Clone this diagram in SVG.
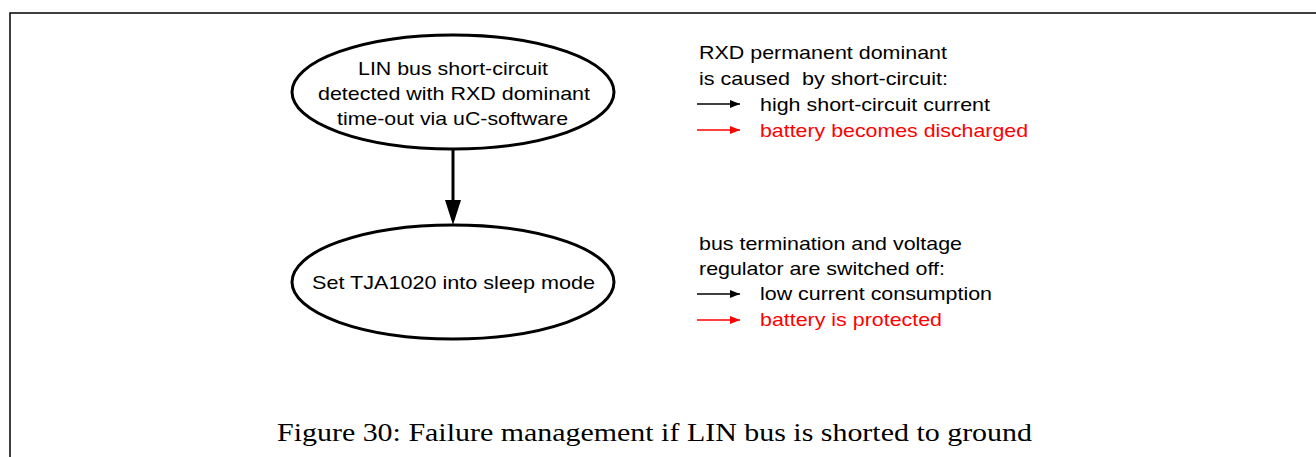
<svg xmlns="http://www.w3.org/2000/svg" width="1316" height="457" viewBox="0 0 1316 457">
<style>
.node{fill:#fff;stroke:#000;stroke-width:3}
.t{font-family:"Liberation Sans",Arial,sans-serif;font-size:18.5px;fill:#000}
.r{fill:#f00}
.cap{font-family:"Liberation Serif","Times New Roman",serif;font-size:25px;fill:#000}
</style>
<defs>
<marker id="sb" viewBox="0 0 10 8" refX="10" refY="4" markerWidth="10" markerHeight="8" orient="auto" markerUnits="userSpaceOnUse"><path d="M0,0 L10,4 L0,8 Z" fill="#000"/></marker>
<marker id="sr" viewBox="0 0 10 8" refX="10" refY="4" markerWidth="10" markerHeight="8" orient="auto" markerUnits="userSpaceOnUse"><path d="M0,0 L10,4 L0,8 Z" fill="#f00"/></marker>
</defs>
<rect width="1316" height="457" fill="#fff"/>
<path d="M10,457 V13 H1316" fill="none" stroke="#000" stroke-width="1.5"/>
<g id="connectors">
<path d="M453,149 V200" stroke="#000" stroke-width="3" fill="none"/>
<path d="M445,200 L461,200 L453,225 Z" fill="#000"/>
<path d="M697,104 H740" stroke="#000" stroke-width="1.5" marker-end="url(#sb)"/>
<path d="M697,130 H740" stroke="#f00" stroke-width="1.5" marker-end="url(#sr)"/>
<path d="M697,294 H740" stroke="#000" stroke-width="1.5" marker-end="url(#sb)"/>
<path d="M697,320 H740" stroke="#f00" stroke-width="1.5" marker-end="url(#sr)"/>
</g>
<g id="node1">
<ellipse class="node" cx="453" cy="92" rx="161" ry="57"/>
<text class="t" x="358" y="75" textLength="190" lengthAdjust="spacingAndGlyphs">LIN bus short-circuit</text>
<text class="t" x="318" y="100" textLength="272" lengthAdjust="spacingAndGlyphs">detected with RXD dominant</text>
<text class="t" x="337" y="125" textLength="231" lengthAdjust="spacingAndGlyphs">time-out via uC-software</text>
</g>
<g id="node2">
<ellipse class="node" cx="453" cy="282" rx="161" ry="57"/>
<text class="t" x="312" y="289" textLength="283" lengthAdjust="spacingAndGlyphs">Set TJA1020 into sleep mode</text>
</g>
<g id="note1">
<text class="t" x="699" y="59" textLength="248" lengthAdjust="spacingAndGlyphs">RXD permanent dominant</text>
<text class="t" x="699" y="85" textLength="249" lengthAdjust="spacingAndGlyphs" xml:space="preserve">is caused  by short-circuit:</text>
<text class="t" x="760" y="111" textLength="230" lengthAdjust="spacingAndGlyphs">high short-circuit current</text>
<text class="t r" x="760" y="137" textLength="268" lengthAdjust="spacingAndGlyphs">battery becomes discharged</text>
</g>
<g id="note2">
<text class="t" x="699" y="250" textLength="263" lengthAdjust="spacingAndGlyphs">bus termination and voltage</text>
<text class="t" x="699" y="275" textLength="246" lengthAdjust="spacingAndGlyphs">regulator are switched off:</text>
<text class="t" x="760" y="300" textLength="232" lengthAdjust="spacingAndGlyphs">low current consumption</text>
<text class="t r" x="760" y="326" textLength="182" lengthAdjust="spacingAndGlyphs">battery is protected</text>
</g>
<text class="cap" x="277" y="441" textLength="755" lengthAdjust="spacingAndGlyphs">Figure 30: Failure management if LIN bus is shorted to ground</text>
</svg>
